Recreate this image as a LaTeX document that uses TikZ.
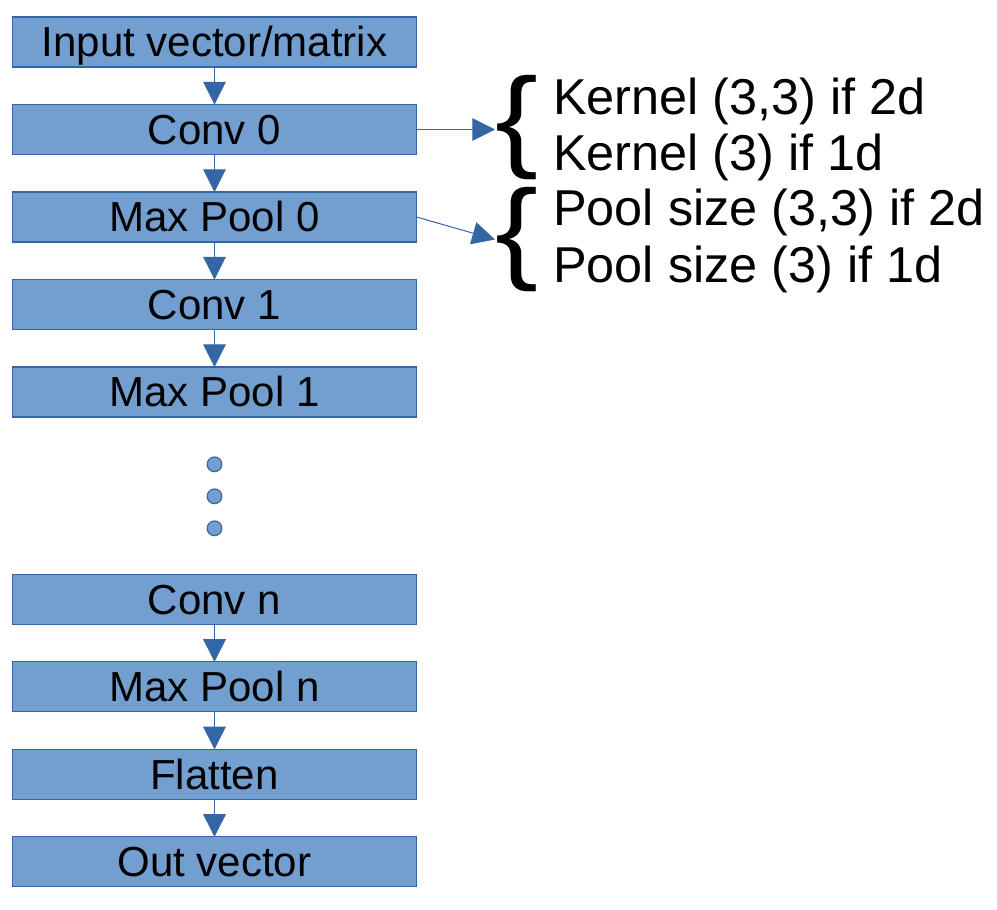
\documentclass[tikz,border=0pt]{standalone}
\usepackage{fontspec}
\setmainfont{Liberation Sans}
\usetikzlibrary{arrows.meta, positioning}

\definecolor{layerfill}{HTML}{729FCF}
\definecolor{layerline}{HTML}{3465A4}

\begin{document}
\begin{tikzpicture}[
    x=0.75pt, y=-0.75pt,
    >= {Triangle[length=17pt, width=17pt]},
    node distance=28.125pt,
    layer/.style={draw=layerline, fill=layerfill, line width=0.9pt, outer sep=0pt,
        minimum width=303pt, minimum height=37.5pt, inner sep=0pt,
        font=\fontsize{31.5pt}{36pt}\selectfont, text height=28.3pt, text depth=6.3pt},
    dot/.style={circle, draw=layerline, fill=layerfill, line width=0.9pt, outer sep=0pt,
        minimum size=11pt, inner sep=0pt},
    flow/.style={->, draw=layerline, line width=0.75pt},
    curly/.style={anchor=base west, inner sep=0pt, font=\fontsize{84pt}{84pt}\selectfont},
    note/.style={anchor=base west, inner sep=0pt, font=\fontsize{37.8pt}{42pt}\selectfont},
    ]

    \useasboundingbox (0,0) rectangle (997,910);

    % ==========================================
    % Layer stack
    % ==========================================
    \node[layer] (input) at (214.5, 42) {Input vector/matrix};
    \node[layer, below=of input] (conv0) {Conv 0};
    \node[layer, below=of conv0] (pool0) {Max Pool 0};
    \node[layer, below=of pool0] (conv1) {Conv 1};
    \node[layer, below=of conv1] (pool1) {Max Pool 1};

    % dots for the repeated layers
    \node[dot, below=30pt of pool1] (dot1) {};
    \node[dot, below=13pt of dot1] (dot2) {};
    \node[dot, below=13pt of dot2] (dot3) {};

    \node[layer, below=29pt of dot3] (convn) {Conv n};
    \node[layer, below=of convn] (pooln) {Max Pool n};
    \node[layer, below=of pooln] (flatten) {Flatten};
    \node[layer, below=of flatten] (out) {Out vector};

    % ==========================================
    % Arrows between layers
    % ==========================================
    \foreach \a/\b in {input/conv0, conv0/pool0, pool0/conv1, conv1/pool1,
        convn/pooln, pooln/flatten, flatten/out}
        \draw[flow] (\a) -- (\b);

    % ==========================================
    % Parameter notes
    % ==========================================
    \node[curly] (kbrace) at (495, 156.5) {\scalebox{1.15}[1]{\{}};
    \node[curly] (pbrace) at (495, 268.5) {\scalebox{1.15}[1]{\{}};

    \draw[flow] (conv0.east) -- (kbrace.west |- conv0.east);
    \draw[flow] (pool0.east) -- (pbrace.west |- 0, 239.5);

    \node[note] (k2d) at (553, 114) {Kernel (3,3) if 2d};
    \node[note] (k1d) at (553, 170) {Kernel (3) if 1d};
    \node[note] (p2d) at (553, 225) {Pool size (3,3) if 2d};
    \node[note] (p1d) at (553, 282) {Pool size (3) if 1d};

\end{tikzpicture}
\end{document}
